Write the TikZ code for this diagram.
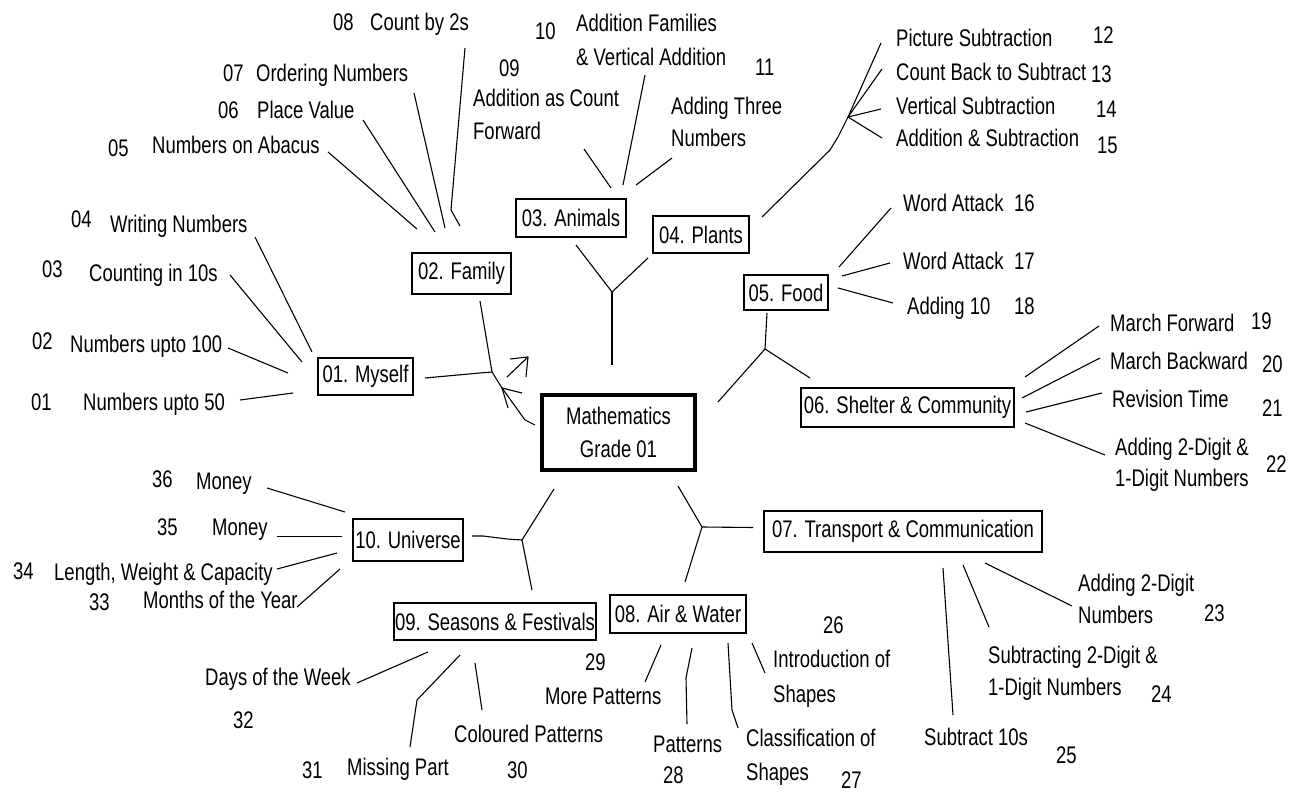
\documentclass[tikz,border=0pt]{standalone}
\usepackage{fontspec}
\setmainfont{Liberation Sans}[FakeStretch=0.77]
\newcommand{\lblfont}{\fontsize{24}{33}\selectfont}
\begin{document}
\begin{tikzpicture}[x=1pt,y=-1pt,
  lbl/.style={anchor=base west, inner sep=0pt, font=\lblfont, text=black},
  topic/.style={draw, line width=1.2pt, inner sep=0pt, font=\lblfont, text=black},
  link/.style={line width=1.1pt, line join=round}]
\useasboundingbox (0,0) rectangle (1299,794);
% centre
\node[draw, line width=4pt, minimum width=153pt, minimum height=75pt, align=center, font=\lblfont, text=black] (math) at (618.5,432.5) {Mathematics\\Grade 01};
% topics
\node[topic, minimum width=95pt, minimum height=37pt] (myself) at (365.5,376.5) {01. Myself};
\node[topic, minimum width=99pt, minimum height=41pt] (family) at (461.5,273.5) {02. Family};
\node[topic, minimum width=110pt, minimum height=38pt] (animals) at (571,218) {03. Animals};
\node[topic, minimum width=96pt, minimum height=37pt] (plants) at (701,234.5) {04. Plants};
\node[topic, minimum width=84pt, minimum height=35pt] (food) at (786,292.5) {05. Food};
\node[topic, minimum width=213pt, minimum height=39pt] (shelter) at (907.5,407.5) {06. Shelter \& Community};
\node[topic, minimum width=278pt, minimum height=41pt] (transport) at (903,531.5) {07. Transport \& Communication};
\node[topic, minimum width=136pt, minimum height=38pt] (air) at (678,614) {08. Air \& Water};
\node[topic, minimum width=202pt, minimum height=37pt] (seasons) at (495,621.5) {09. Seasons \& Festivals};
\node[topic, minimum width=110pt, minimum height=42pt] (universe) at (408,540) {10. Universe};

% junctions
\coordinate (jFM) at (492,372);
\coordinate (jAP) at (612,292);
\coordinate (jFS) at (765,349);
\coordinate (jTA) at (702,527);
\coordinate (jUS) at (522,540);
\coordinate (jP) at (848,117);
\coordinate (tip) at (502,388);

% hub connectors
\coordinate (myE) at (425,378);
\coordinate (faS) at (480,301);
\coordinate (maNW) at (535,425);
\draw[link] (myE) -- (480,373) -- (jFM);
\draw[link] (faS) -- (jFM);
\draw[link] (jFM) -- (tip) -- (525,420) -- (maNW);
\draw[link] (522,393) -- (tip) -- (508,408);
\coordinate (arA) at (507,377);
\coordinate (arB) at (528,357);
\draw[link] (arA) -- (arB);
\draw[link] (510,359) -- (arB) -- (526,377);

\coordinate (anS) at (576,245);
\coordinate (plSW) at (648,258);
\coordinate (maN) at (612,365);
\draw[link] (anS) -- (jAP);
\draw[link] (plSW) -- (jAP);
\draw[link] (jAP) -- (maN);

\coordinate (foS) at (767,313);
\coordinate (shNW) at (810,378);
\coordinate (maNE) at (718,402);
\draw[link] (foS) -- (jFS);
\draw[link] (jFS) -- (shNW);
\draw[link] (jFS) -- (maNE);

\coordinate (maSE) at (678,486);
\coordinate (trW) at (753,527.5);
\coordinate (aiN) at (685,582);
\draw[link] (maSE) -- (jTA);
\draw[link] (jTA) -- (trW);
\draw[link] (jTA) -- (aiN);

\coordinate (unE) at (472,536);
\coordinate (maSW) at (554,489);
\coordinate (seN) at (532,590);
\draw[link] (unE) -- (483,536) -- (507,539) -- (jUS);
\draw[link] (jUS) -- (maSW);
\draw[link] (jUS) -- (seN);

% family leaves
\draw[link] (328,152) -- (417,229);
\draw[link] (363,120) -- (435,232);
\draw[link] (414,93) -- (445,228);
\draw[link] (465,48) -- (451,210) -- (460,226);
% myself leaves
\draw[link] (255,237) -- (312,352);
\draw[link] (230,275) -- (302,362);
\draw[link] (228,348) -- (288,373);
\draw[link] (240,400) -- (293,393);
% animals leaves
\draw[link] (584,149) -- (611,188);
\draw[link] (645,75) -- (623,185);
\draw[link] (672,158) -- (636,185);
% plants leaves
\draw[link] (762,217) -- (830,150) -- (838,137) -- (jP);
\draw[link] (jP) -- (881,43);
\draw[link] (jP) -- (882,69);
\draw[link] (jP) -- (881,109);
\draw[link] (jP) -- (882,138);
% food leaves
\draw[link] (891,208) -- (839,267);
\draw[link] (890,263) -- (842,276);
\draw[link] (893,303) -- (838,288);
% shelter leaves
\draw[link] (1099,326) -- (1025,377);
\draw[link] (1100,358) -- (1022,398);
\draw[link] (1102,393) -- (1026,412);
\draw[link] (1105,455) -- (1025,423);
% transport leaves
\draw[link] (985,563) -- (1072,606);
\draw[link] (963,565) -- (989,627);
\draw[link] (943,568) -- (953,715);
% air leaves
\draw[link] (752,643) -- (765,673);
\draw[link] (728,643) -- (732,710) -- (738,728);
\draw[link] (692,648) -- (686,678) -- (687,724);
\draw[link] (661,645) -- (645,682);
% seasons leaves
\draw[link] (475,663) -- (482,710);
\draw[link] (460,655) -- (417,700) -- (410,747);
\draw[link] (357,683) -- (428,652);
% universe leaves
\draw[link] (267,488) -- (345,512);
\draw[link] (277,536.5) -- (342,536.5);
\draw[link] (277,569) -- (337,553);
\draw[link] (297,607) -- (340,569);

% labels
\node[lbl] (n08) at (333,31) {08};
\node[lbl] (t08) at (370,31) {Count by 2s};
\node[lbl] (n07) at (223,82) {07};
\node[lbl] (t07) at (256,82) {Ordering Numbers};
\node[lbl] (n06) at (218,119) {06};
\node[lbl] (t06) at (257,119) {Place Value};
\node[lbl] (n05) at (108,157) {05};
\node[lbl] (t05) at (152,154) {Numbers on Abacus};
\node[lbl] (n04) at (71,228) {04};
\node[lbl] (t04) at (110,233) {Writing Numbers};
\node[lbl] (n03) at (42,278) {03};
\node[lbl] (t03) at (89,282) {Counting in 10s};
\node[lbl] (n02) at (32,350) {02};
\node[lbl] (t02) at (70,353) {Numbers upto 100};
\node[lbl] (n01) at (31,410) {01};
\node[lbl] (t01) at (83,410) {Numbers upto 50};

\node[lbl] (n10) at (535,40) {10};
\node[lbl] (t10a) at (576,32) {Addition Families};
\node[lbl] (t10b) at (576,66) {\& Vertical Addition};
\node[lbl] (n09) at (499,77) {09};
\node[lbl] (t09a) at (473,107) {Addition as Count};
\node[lbl] (t09b) at (473,140) {Forward};
\node[lbl] (n11) at (755,76) {11};
\node[lbl] (t11a) at (671,115) {Adding Three};
\node[lbl] (t11b) at (671,147) {Numbers};

\node[lbl] (t12) at (896,47) {Picture Subtraction};
\node[lbl] (n12) at (1093,44) {12};
\node[lbl] (t13) at (896,81) {Count Back to Subtract};
\node[lbl] (n13) at (1091,83) {13};
\node[lbl] (t14) at (896,115) {Vertical Subtraction};
\node[lbl] (n14) at (1096,118) {14};
\node[lbl] (t15) at (896,147) {Addition \& Subtraction};
\node[lbl] (n15) at (1097,154) {15};

\node[lbl] (t16) at (903,212) {Word Attack};
\node[lbl] (n16) at (1014,212) {16};
\node[lbl] (t17) at (903,270) {Word Attack};
\node[lbl] (n17) at (1014,270) {17};
\node[lbl] (t18) at (907,315) {Adding 10};
\node[lbl] (n18) at (1014,315) {18};

\node[lbl] (t19) at (1110,332) {March Forward};
\node[lbl] (n19) at (1251,330) {19};
\node[lbl] (t20) at (1110,370) {March Backward};
\node[lbl] (n20) at (1262,373) {20};
\node[lbl] (t21) at (1112,407) {Revision Time};
\node[lbl] (n21) at (1262,416) {21};
\node[lbl] (t22a) at (1115,455) {Adding 2-Digit \&};
\node[lbl] (t22b) at (1115,486) {1-Digit Numbers};
\node[lbl] (n22) at (1266,472) {22};

\node[lbl] (t23a) at (1078,591) {Adding 2-Digit};
\node[lbl] (t23b) at (1078,623) {Numbers};
\node[lbl] (n23) at (1204,621) {23};
\node[lbl] (t24a) at (988,663) {Subtracting 2-Digit \&};
\node[lbl] (t24b) at (988,695) {1-Digit Numbers};
\node[lbl] (n24) at (1151,702) {24};
\node[lbl] (t25) at (924,745) {Subtract 10s};
\node[lbl] (n25) at (1056,763) {25};

\node[lbl] (n26) at (823,633) {26};
\node[lbl] (t26a) at (773,667) {Introduction of};
\node[lbl] (t26b) at (773,702) {Shapes};
\node[lbl] (t27a) at (746,746) {Classification of};
\node[lbl] (t27b) at (746,780) {Shapes};
\node[lbl] (n27) at (841,788) {27};
\node[lbl] (t28) at (653,752) {Patterns};
\node[lbl] (n28) at (663,783) {28};
\node[lbl] (n29) at (585,670) {29};
\node[lbl] (t29) at (545,704) {More Patterns};
\node[lbl] (t30) at (454,742) {Coloured Patterns};
\node[lbl] (n30) at (507,778) {30};

\node[lbl] (n31) at (302,778) {31};
\node[lbl] (t31) at (347,775) {Missing Part};
\node[lbl] (n32) at (233,728) {32};
\node[lbl] (t32) at (205,685) {Days of the Week};
\node[lbl] (n33) at (89,610) {33};
\node[lbl] (t33) at (143,608) {Months of the Year};
\node[lbl] (n34) at (13,579) {34};
\node[lbl] (t34) at (54,580) {Length, Weight \& Capacity};
\node[lbl] (n35) at (157,535) {35};
\node[lbl] (t35) at (212,535) {Money};
\node[lbl] (n36) at (152,487) {36};
\node[lbl] (t36) at (196,489) {Money};
\end{tikzpicture}
\end{document}
